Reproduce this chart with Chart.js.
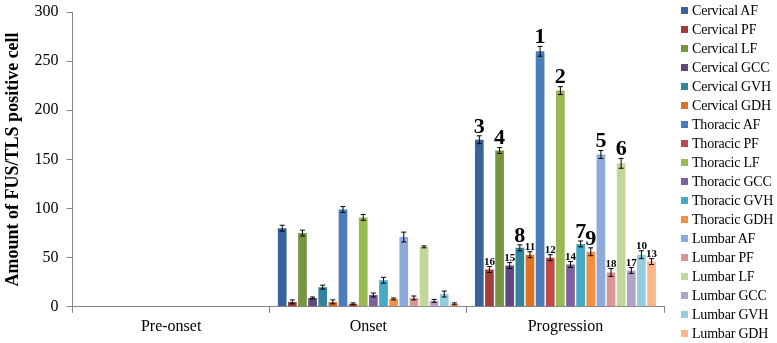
<!DOCTYPE html>
<html><head><meta charset="utf-8">
<script src="https://cdn.jsdelivr.net/npm/chart.js@4"></script>
<style>
html,body{margin:0;padding:0;background:#fff}
#wrap{position:relative;width:777px;height:343px}
#legend{position:absolute;left:681px;top:0;width:96px;font-family:'Liberation Serif','Times New Roman',serif;font-size:14px;color:#000}
#legend .row{position:absolute;left:0;height:19px;line-height:19px;white-space:nowrap;letter-spacing:-0.2px}
#legend .box{display:inline-block;width:7px;height:7px;margin-right:4px;vertical-align:middle;position:relative;top:-1px}
</style>
</head><body><div id="wrap"><canvas id="c" width="777" height="343"></canvas><div id="legend"></div></div>
<script>
const categories = ["Pre-onset", "Onset", "Progression"];
const seriesNames = ["Cervical AF","Cervical PF","Cervical LF","Cervical GCC","Cervical GVH","Cervical GDH",
  "Thoracic AF","Thoracic PF","Thoracic LF","Thoracic GCC","Thoracic GVH","Thoracic GDH",
  "Lumbar AF","Lumbar PF","Lumbar LF","Lumbar GCC","Lumbar GVH","Lumbar GDH"];
const palette = ["#3A6499","#A13E3C","#779540","#5F4A7C","#31849B","#DE7225",
  "#4A7EBB","#BE4B48","#98B954","#7D60A0","#46AAC5","#F38F42",
  "#8EAADB","#D99694","#C3D69B","#B3A2C7","#93CDDD","#FAB68A"];
const onsetValues = [80,5,75,9,20,5, 99,3,91,12,27,8, 71,9,61,6,13,3];
const onsetErrors = [3,2,3,1,2,2, 3,1,3,2,3,1, 5,2,1,1.5,3,1];
const progressionValues = [170,38,159,42,60,53, 260,50,220,43,64,56, 155,35,146,37,53,46];
const progressionErrors = [4,3,3,3,3,3, 5,3,4,3,3,4, 4,4,5,3,4,3];
const rankLabels = ["3","16","4","15","8","11", "1","12","2","14","7","9", "5","18","6","17","10","13"];
const yTicks = [0,50,100,150,200,250,300];

const serif = "'Liberation Serif','Times New Roman',serif";

const datasets = seriesNames.map((n,i)=>({
  label:n,
  data:[null, onsetValues[i], progressionValues[i]],
  errors:[null, onsetErrors[i], progressionErrors[i]],
  rank:[null, null, rankLabels[i]],
  backgroundColor:palette[i],
  borderWidth:0,
  categoryPercentage:0.925,
  barPercentage:0.86
}));

const errPlugin = {
  id:'err',
  afterDatasetsDraw(chart){
    const ctx = chart.ctx, ys = chart.scales.y;
    chart.data.datasets.forEach((ds,di)=>{
      const meta = chart.getDatasetMeta(di);
      meta.data.forEach((el,j)=>{
        const v = ds.data[j], e = ds.errors[j];
        if (v==null) return;
        const x = el.x;
        const yt = ys.getPixelForValue(v+e), yb = ys.getPixelForValue(v-e);
        ctx.save();
        ctx.strokeStyle='#000'; ctx.lineWidth=1;
        ctx.beginPath();
        ctx.moveTo(x,yt); ctx.lineTo(x,yb);
        ctx.moveTo(x-2.5,yt); ctx.lineTo(x+2.5,yt);
        ctx.moveTo(x-2.5,yb); ctx.lineTo(x+2.5,yb);
        ctx.stroke();
        const r = ds.rank[j];
        if (r){
          const big = r.length===1;
          ctx.fillStyle='#000';
          ctx.font = 'bold '+(big?22:11)+'px '+serif;
          ctx.textAlign='center'; ctx.textBaseline='bottom';
          ctx.fillText(r, x, yt+(big?2:1));
        }
        ctx.restore();
      });
    });
  }
};

const chart = new Chart(document.getElementById('c'),{
  type:'bar',
  data:{labels:categories, datasets},
  options:{
    responsive:false, animation:false,
    layout:{padding:{top:0,right:113,left:1,bottom:3}},
    plugins:{
      legend:{display:false},
      tooltip:{enabled:false}
    },
    scales:{
      x:{
        grid:{display:true,drawOnChartArea:false,drawTicks:true,tickLength:6,color:'#868686',offset:true},
        border:{color:'#868686'},
        ticks:{color:'#000',font:{family:serif,size:16},padding:4}
      },
      y:{
        min:0,max:300,
        afterBuildTicks(s){ s.ticks = yTicks.map(v=>({value:v})); },
        grid:{display:true,drawOnChartArea:false,drawTicks:true,tickLength:6,color:'#868686'},
        border:{color:'#868686'},
        ticks:{color:'#000',font:{family:serif,size:16,lineHeight:0.5},padding:8},
        title:{display:true,text:'Amount of FUS/TLS positive cell',color:'#000',font:{family:serif,size:18,weight:'bold'},padding:2}
      }
    }
  },
  plugins:[errPlugin]
});

// legend built from the chart's datasets
const lg = document.getElementById('legend');
chart.data.datasets.forEach((ds,i)=>{
  const row = document.createElement('div');
  row.className='row';
  row.style.top = (0.5 + i*19) + 'px';
  const b = document.createElement('span');
  b.className='box'; b.style.background = ds.backgroundColor;
  row.appendChild(b);
  row.appendChild(document.createTextNode(ds.label));
  lg.appendChild(row);
});
</script></body></html>
